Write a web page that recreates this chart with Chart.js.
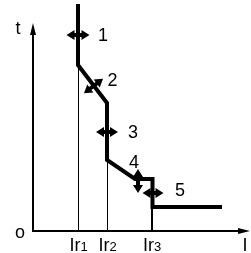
<!DOCTYPE html>
<html>
<head>
<meta charset="utf-8">
<script src="https://cdn.jsdelivr.net/npm/chart.js@4.4.1/dist/chart.umd.min.js"></script>
<style>
  html, body { margin: 0; background: #fff; }
</style>
</head>
<body>
<canvas id="curve" width="251" height="253"></canvas>
<script>
// trip curve, current I against time t (drawing units)
const curveI = [45, 45, 74, 74, 102, 119.5, 119.5, 189];
const curveT = [227, 166, 128, 71, 52, 52, 24, 24];

// pick-up currents Ir1..Ir3
const pickupNames = ['1', '2', '3'];
const pickupI = [45.5, 74.5, 119];
const pickupT = [166, 71, 24];

// setting arrows 1..5
const markerNames = ['1', '2', '3', '4', '5'];
const markerI = [45, 60.5, 74, 105, 120];
const markerT = [196, 145, 99, 50, 38];
const markerDir = ['h', 'd', 'h', 'v', 'h'];

const axisMaxI = 217;
const axisMaxT = 231;

const FONT = '"Liberation Sans", Arial, sans-serif';

function toPoints(xs, ys) {
    return xs.map((x, i) => ({ x: x, y: ys[i] }));
}

function drawArrow(ctx, cx, cy, ang, half) {
    const head = 8, hw = 5;
    ctx.save();
    ctx.translate(cx, cy);
    ctx.rotate(ang);
    ctx.fillStyle = '#000';
    ctx.fillRect(-half + head - 1, -2, 2 * (half - head + 1), 4);
    ctx.beginPath();
    ctx.moveTo(-half, 0);
    ctx.lineTo(-half + head, -hw);
    ctx.lineTo(-half + head, hw);
    ctx.closePath();
    ctx.moveTo(half, 0);
    ctx.lineTo(half - head, -hw);
    ctx.lineTo(half - head, hw);
    ctx.closePath();
    ctx.fill();
    ctx.restore();
}

const decorations = {
    id: 'decorations',
    afterDraw(chart) {
        const ctx = chart.ctx;
        const xs = chart.scales.x, ys = chart.scales.y;
        const x0 = xs.getPixelForValue(0), y0 = ys.getPixelForValue(0);
        ctx.save();
        ctx.fillStyle = '#000';
        ctx.strokeStyle = '#000';
        // axes
        ctx.lineWidth = 2;
        ctx.beginPath();
        ctx.moveTo(x0, y0);
        ctx.lineTo(x0, ys.getPixelForValue(196));
        ctx.moveTo(x0 - 1, y0);
        ctx.lineTo(xs.getPixelForValue(206), y0);
        ctx.stroke();
        ctx.beginPath();
        const ty = ys.getPixelForValue(208);
        ctx.moveTo(x0, ty);
        ctx.lineTo(x0 - 3, ty + 12);
        ctx.lineTo(x0 + 3, ty + 12);
        ctx.closePath();
        const tx = xs.getPixelForValue(axisMaxI);
        ctx.moveTo(tx, y0);
        ctx.lineTo(tx - 12, y0 - 3);
        ctx.lineTo(tx - 12, y0 + 3);
        ctx.closePath();
        ctx.fill();

        // axis labels
        ctx.font = '18px ' + FONT;
        ctx.textAlign = 'center';
        ctx.textBaseline = 'alphabetic';
        ctx.fillText('t', x0 - 15, ty + 11);
        ctx.fillText('o', x0 - 13, y0 + 7);
        ctx.fillText('I', tx - 5, y0 + 20);

        // Ir labels
        pickupNames.forEach((n, i) => {
            const px = xs.getPixelForValue(pickupI[i]);
            ctx.font = '18px ' + FONT;
            ctx.textAlign = 'left';
            const w1 = ctx.measureText('Ir').width;
            ctx.font = '13px ' + FONT;
            const w2 = ctx.measureText(n).width;
            const left = px - (w1 + w2) / 2;
            ctx.font = '18px ' + FONT;
            ctx.fillText('Ir', left, y0 + 20);
            ctx.font = '13px ' + FONT;
            ctx.fillText(n, left + w1, y0 + 20);
        });

        // setting arrows with their numbers
        const slope = Math.atan2(
            ys.getPixelForValue(curveT[2]) - ys.getPixelForValue(curveT[1]),
            xs.getPixelForValue(curveI[2]) - xs.getPixelForValue(curveI[1]));
        const labelOffset = [[25, 0], [19, -6], [26, 0], [-4, -19], [27, -3]];
        const halfLen = [11.5, 12, 11, 12, 10.5];
        ctx.font = '18px ' + FONT;
        ctx.textAlign = 'center';
        ctx.textBaseline = 'middle';
        markerNames.forEach((n, i) => {
            const px = xs.getPixelForValue(markerI[i]);
            const py = ys.getPixelForValue(markerT[i]);
            let ang = 0;
            if (markerDir[i] === 'v') ang = Math.PI / 2;
            if (markerDir[i] === 'd') ang = slope - Math.PI / 2;
            drawArrow(ctx, px, py, ang, halfLen[i]);
            ctx.fillText(n, px + labelOffset[i][0], py + labelOffset[i][1] + 1);
        });
        ctx.restore();
    }
};

const datasets = [{
    data: toPoints(curveI, curveT),
    borderColor: '#000',
    borderWidth: 4,
    borderJoinStyle: 'miter',
    pointRadius: 0,
    showLine: true,
    order: 0
}];
pickupI.forEach((v, i) => {
    datasets.push({
        data: [{ x: v, y: 0 }, { x: v, y: pickupT[i] }],
        borderColor: '#000',
        borderWidth: i === 2 ? 2 : 1,
        pointRadius: 0,
        showLine: true,
        order: 1
    });
});

new Chart(document.getElementById('curve'), {
    type: 'scatter',
    data: { datasets: datasets },
    options: {
        responsive: false,
        animation: false,
        layout: { padding: { left: 33, right: 1, top: 0, bottom: 22 } },
        plugins: { legend: { display: false }, tooltip: { enabled: false } },
        scales: {
            x: { type: 'linear', min: 0, max: axisMaxI, display: false },
            y: { type: 'linear', min: 0, max: axisMaxT, display: false }
        }
    },
    plugins: [decorations]
});
</script>
</body>
</html>
